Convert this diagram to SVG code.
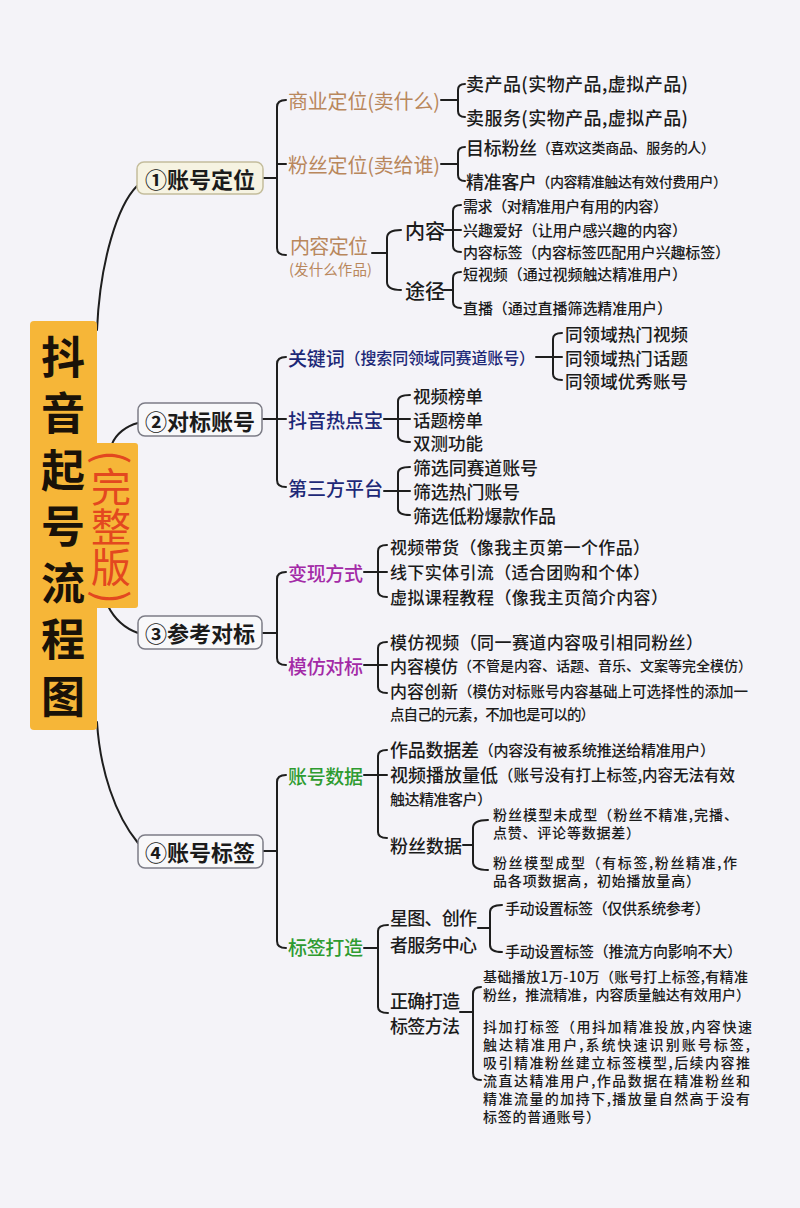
<svg xmlns="http://www.w3.org/2000/svg" width="800" height="1208" viewBox="0 0 800 1208">
<defs>
<style>
text{font-family:"Noto Sans CJK SC","Noto Sans",sans-serif;dominant-baseline:central;fill:#1b1b1b;font-weight:500}
.ln{stroke:#1e1e1e;stroke-width:2;fill:none;stroke-linecap:round;stroke-linejoin:round}
.box{fill:#f8f8fa;stroke:#7c7c86;stroke-width:1.5}
.box1{fill:#f6f3e2;stroke:#c4bd9c;stroke-width:1.5}
.nd{font-size:22px;font-weight:700;text-anchor:middle}
.tan{fill:#b9875c;font-weight:400}
.navy{fill:#1d2877}
.pur{fill:#a32aa7}
.grn{fill:#2e9b30}
.title{font-size:44px;font-weight:700;fill:#1a1208;writing-mode:vertical-rl;letter-spacing:12.5px}
.sub{font-size:40px;fill:#e3481f;font-weight:400}
.vt{writing-mode:vertical-rl}
.par{font-size:42px;fill:#e3481f;font-weight:400;text-anchor:middle}
.org{fill:#f6b638}
</style>
</defs>
<rect width="800" height="1208" fill="#f4f3f8"/>

<g id="connectors" class="ln">
<path d="M137 186 C118 205 100 260 97 330"/>
<path d="M97 722 C100 770 115 815 138 843"/>
<path d="M112 444 C116 434 126 426 138 423"/>
<path d="M108 606 C114 618 124 628 138 633"/>
<!-- section 1 -->
<path d="M263 178 H277"/>
<path d="M286 100 Q277 100 277 107 V248 Q277 255 286 255"/>
<path d="M277 164 H286"/>
<path d="M441 100 H458"/>
<path d="M465 84 Q458 84 458 90 V111 Q458 117 465 117"/>
<path d="M441 164 H458"/>
<path d="M465 147 Q458 147 458 153 V175 Q458 181 465 181"/>
<path d="M372 253 H387"/>
<path d="M401 230 Q387 230 387 238 V282 Q387 290 401 290"/>
<path d="M444 230 H461"/>
<path d="M461 205 Q453 205 453 211 V246 Q453 252 461 252"/>
<path d="M444 290 H453"/>
<path d="M461 272 Q453 272 453 278 V302 Q453 308 461 308"/>
<!-- section 2 -->
<path d="M263 419 H286"/>
<path d="M286 357 Q277 357 277 364 V480 Q277 487 286 487"/>
<path d="M536 357 H562"/>
<path d="M562 333 Q553 333 553 339 V374 Q553 380 562 380"/>
<path d="M384 419 H410"/>
<path d="M410 395 Q398 395 398 401 V436 Q398 442 410 442"/>
<path d="M384 491 H410"/>
<path d="M410 467 Q398 467 398 473 V509 Q398 515 410 515"/>
<!-- section 3 -->
<path d="M263 633 H277"/>
<path d="M286 572 Q277 572 277 579 V658 Q277 665 286 665"/>
<path d="M364 572 H387"/>
<path d="M387 545 Q378 545 378 551 V591 Q378 597 387 597"/>
<path d="M364 665 H387"/>
<path d="M387 642 Q378 642 378 648 V687 Q378 693 387 693"/>
<!-- section 4 -->
<path d="M263 851 H277"/>
<path d="M286 775 Q277 775 277 782 V941 Q277 948 286 948"/>
<path d="M364 775 H387"/>
<path d="M387 750 Q378 750 378 756 V832 Q378 838 387 838"/>
<path d="M463 845 H473"/>
<path d="M488 820 Q473 820 473 828 V862 Q473 870 488 870"/>
<path d="M364 948 H378"/>
<path d="M388 925 Q378 925 378 931 V1007 Q378 1013 388 1013"/>
<path d="M478 928 H490"/>
<path d="M502 905 Q490 905 490 912 V945 Q490 952 502 952"/>
<path d="M460 1012 H473"/>
<path d="M481 987 Q473 987 473 994 V1073 Q473 1080 481 1080"/>
</g>

<g id="title">
<rect class="org" x="30" y="321" width="67" height="409" rx="4"/>
<rect class="org" x="92" y="443" width="46" height="165" rx="3"/>
<text class="title" x="63" y="335">抖音起号流程图</text>
<text class="par" transform="translate(114 457) rotate(90)">(</text>
<text class="sub vt" x="111" y="467">完整版</text>
<text class="par" transform="translate(114 597) rotate(90)">)</text>
</g>

<g id="node1"><rect class="box1" x="137" y="162" width="126" height="32" rx="7"/><text class="nd" x="200" y="178">①账号定位</text></g>
<g id="node2"><rect class="box" x="138" y="403" width="124" height="33" rx="7"/><text class="nd" x="200" y="420">②对标账号</text></g>
<g id="node3"><rect class="box" x="138" y="616" width="124" height="33" rx="7"/><text class="nd" x="200" y="632">③参考对标</text></g>
<g id="node4"><rect class="box" x="138" y="835" width="125" height="33" rx="7"/><text class="nd" x="200" y="851">④账号标签</text></g>

<!-- section 1 -->
<g id="s1-biz"><text class="tan" x="288" y="100" font-size="20" textLength="152">商业定位(卖什么)</text></g>
<g id="s1-biz-a"><text x="466" y="83" font-size="18" textLength="222">卖产品(实物产品,虚拟产品)</text></g>
<g id="s1-biz-b"><text x="466" y="117" font-size="18" textLength="222">卖服务(实物产品,虚拟产品)</text></g>
<g id="s1-fan"><text class="tan" x="288" y="164" font-size="20" textLength="152">粉丝定位(卖给谁)</text></g>
<g id="s1-fan-a"><text x="466" y="147" textLength="249"><tspan font-size="18">目标粉丝</tspan><tspan font-size="14">（喜欢这类商品、服务的人）</tspan></text></g>
<g id="s1-fan-b"><text x="466" y="181" textLength="261"><tspan font-size="18">精准客户</tspan><tspan font-size="14">（内容精准触达有效付费用户）</tspan></text></g>
<g id="s1-con"><text class="tan"><tspan x="290" y="245" font-size="20" textLength="78">内容定位</tspan><tspan x="289" y="268" font-size="14.5" textLength="83">(发什么作品)</tspan></text></g>
<g id="s1-con-nr"><text x="405" y="230" font-size="20">内容</text></g>
<g id="s1-con-nr-a"><text x="463" y="205" font-size="15" textLength="205">需求（对精准用户有用的内容）</text></g>
<g id="s1-con-nr-b"><text x="463" y="229" font-size="15" textLength="224">兴趣爱好（让用户感兴趣的内容）</text></g>
<g id="s1-con-nr-c"><text x="463" y="251" font-size="15" textLength="267">内容标签（内容标签匹配用户兴趣标签）</text></g>
<g id="s1-con-tj"><text x="405" y="290" font-size="20">途径</text></g>
<g id="s1-con-tj-a"><text x="463" y="273" font-size="15" textLength="224">短视频（通过视频触达精准用户）</text></g>
<g id="s1-con-tj-b"><text x="463" y="307" font-size="15" textLength="209">直播（通过直播筛选精准用户）</text></g>

<!-- section 2 -->
<g id="s2-kw"><text class="navy" x="288" y="357" textLength="247"><tspan font-size="19">关键词</tspan><tspan font-size="16">（搜索同领域同赛道账号）</tspan></text></g>
<g id="s2-kw-a"><text x="565" y="333" font-size="17.5" textLength="123">同领域热门视频</text></g>
<g id="s2-kw-b"><text x="565" y="357" font-size="17.5" textLength="123">同领域热门话题</text></g>
<g id="s2-kw-c"><text x="565" y="380" font-size="17.5" textLength="123">同领域优秀账号</text></g>
<g id="s2-hot"><text class="navy" x="288" y="419" font-size="19" textLength="95">抖音热点宝</text></g>
<g id="s2-hot-a"><text x="413" y="395" font-size="17.5" textLength="70">视频榜单</text></g>
<g id="s2-hot-b"><text x="413" y="419" font-size="17.5" textLength="70">话题榜单</text></g>
<g id="s2-hot-c"><text x="413" y="442" font-size="17.5" textLength="70">双测功能</text></g>
<g id="s2-3rd"><text class="navy" x="288" y="487" font-size="19" textLength="95">第三方平台</text></g>
<g id="s2-3rd-a"><text x="413" y="467" font-size="18" textLength="125">筛选同赛道账号</text></g>
<g id="s2-3rd-b"><text x="413" y="491" font-size="18" textLength="107">筛选热门账号</text></g>
<g id="s2-3rd-c"><text x="413" y="515" font-size="18" textLength="143">筛选低粉爆款作品</text></g>

<!-- section 3 -->
<g id="s3-bx"><text class="pur" x="288" y="572" font-size="19" textLength="75">变现方式</text></g>
<g id="s3-bx-a"><text x="390" y="546" font-size="17" textLength="260">视频带货（像我主页第一个作品）</text></g>
<g id="s3-bx-b"><text x="390" y="571" font-size="17" textLength="260">线下实体引流（适合团购和个体）</text></g>
<g id="s3-bx-c"><text x="390" y="596" font-size="17" textLength="278">虚拟课程教程（像我主页简介内容）</text></g>
<g id="s3-mf"><text class="pur" x="288" y="665" font-size="19" textLength="75">模仿对标</text></g>
<g id="s3-mf-a"><text x="390" y="641" font-size="17" textLength="313">模仿视频（同一赛道内容吸引相同粉丝）</text></g>
<g id="s3-mf-b"><text x="390" y="665" textLength="362"><tspan font-size="17">内容模仿</tspan><tspan font-size="14">（不管是内容、话题、音乐、文案等完全模仿）</tspan></text></g>
<g id="s3-mf-c"><text><tspan x="390" y="690" font-size="17">内容创新</tspan><tspan font-size="14.5">（模仿对标账号内容基础上可选择性的添加一</tspan><tspan x="390" y="713" font-size="14.5" textLength="205">点自己的元素，不加也是可以的）</tspan></text></g>

<!-- section 4 -->
<g id="s4-data"><text class="grn" x="288" y="775" font-size="19" textLength="75">账号数据</text></g>
<g id="s4-data-a"><text x="390" y="749" textLength="325"><tspan font-size="18">作品数据差</tspan><tspan font-size="15">（内容没有被系统推送给精准用户）</tspan></text></g>
<g id="s4-data-b"><text><tspan x="390" y="774" font-size="18">视频播放量低</tspan><tspan font-size="15.5">（账号没有打上标签,内容无法有效</tspan><tspan x="390" y="798" font-size="15" textLength="102">触达精准客户）</tspan></text></g>
<g id="s4-fans"><text x="390" y="845" font-size="18" textLength="72">粉丝数据</text></g>
<g id="s4-fans-a"><text font-size="14"><tspan x="493" y="814" textLength="245">粉丝模型未成型（粉丝不精准,完播、</tspan><tspan x="493" y="832" textLength="147">点赞、评论等数据差）</tspan></text></g>
<g id="s4-fans-b"><text font-size="14"><tspan x="493" y="862" textLength="244">粉丝模型成型（有标签,粉丝精准,作</tspan><tspan x="493" y="880" textLength="207">品各项数据高，初始播放量高）</tspan></text></g>
<g id="s4-tag"><text class="grn" x="288" y="946" font-size="19" textLength="75">标签打造</text></g>
<g id="s4-tag-xt"><text font-size="18"><tspan x="390" y="917" textLength="87">星图、创作</tspan><tspan x="390" y="944" textLength="87">者服务中心</tspan></text></g>
<g id="s4-tag-xt-a"><text x="505" y="907" font-size="15" textLength="205">手动设置标签（仅供系统参考）</text></g>
<g id="s4-tag-xt-b"><text x="505" y="950" font-size="15" textLength="237">手动设置标签（推流方向影响不大）</text></g>
<g id="s4-tag-zq"><text font-size="18"><tspan x="390" y="1000" textLength="70">正确打造</tspan><tspan x="390" y="1025" textLength="70">标签方法</tspan></text></g>
<g id="s4-tag-zq-a"><text font-size="14"><tspan x="483" y="976" textLength="265">基础播放1万-10万（账号打上标签,有精准</tspan><tspan x="483" y="994" textLength="267">粉丝，推流精准，内容质量触达有效用户）</tspan></text></g>
<g id="s4-tag-zq-b"><text font-size="14"><tspan x="483" y="1026" textLength="269">抖加打标签（用抖加精准投放,内容快速</tspan><tspan x="483" y="1044" textLength="267">触达精准用户,系统快速识别账号标签,</tspan><tspan x="483" y="1062" textLength="267">吸引精准粉丝建立标签模型,后续内容推</tspan><tspan x="483" y="1080" textLength="267">流直达精准用户,作品数据在精准粉丝和</tspan><tspan x="483" y="1098" textLength="267">精准流量的加持下,播放量自然高于没有</tspan><tspan x="483" y="1116" textLength="117">标签的普通账号）</tspan></text></g>
</svg>
